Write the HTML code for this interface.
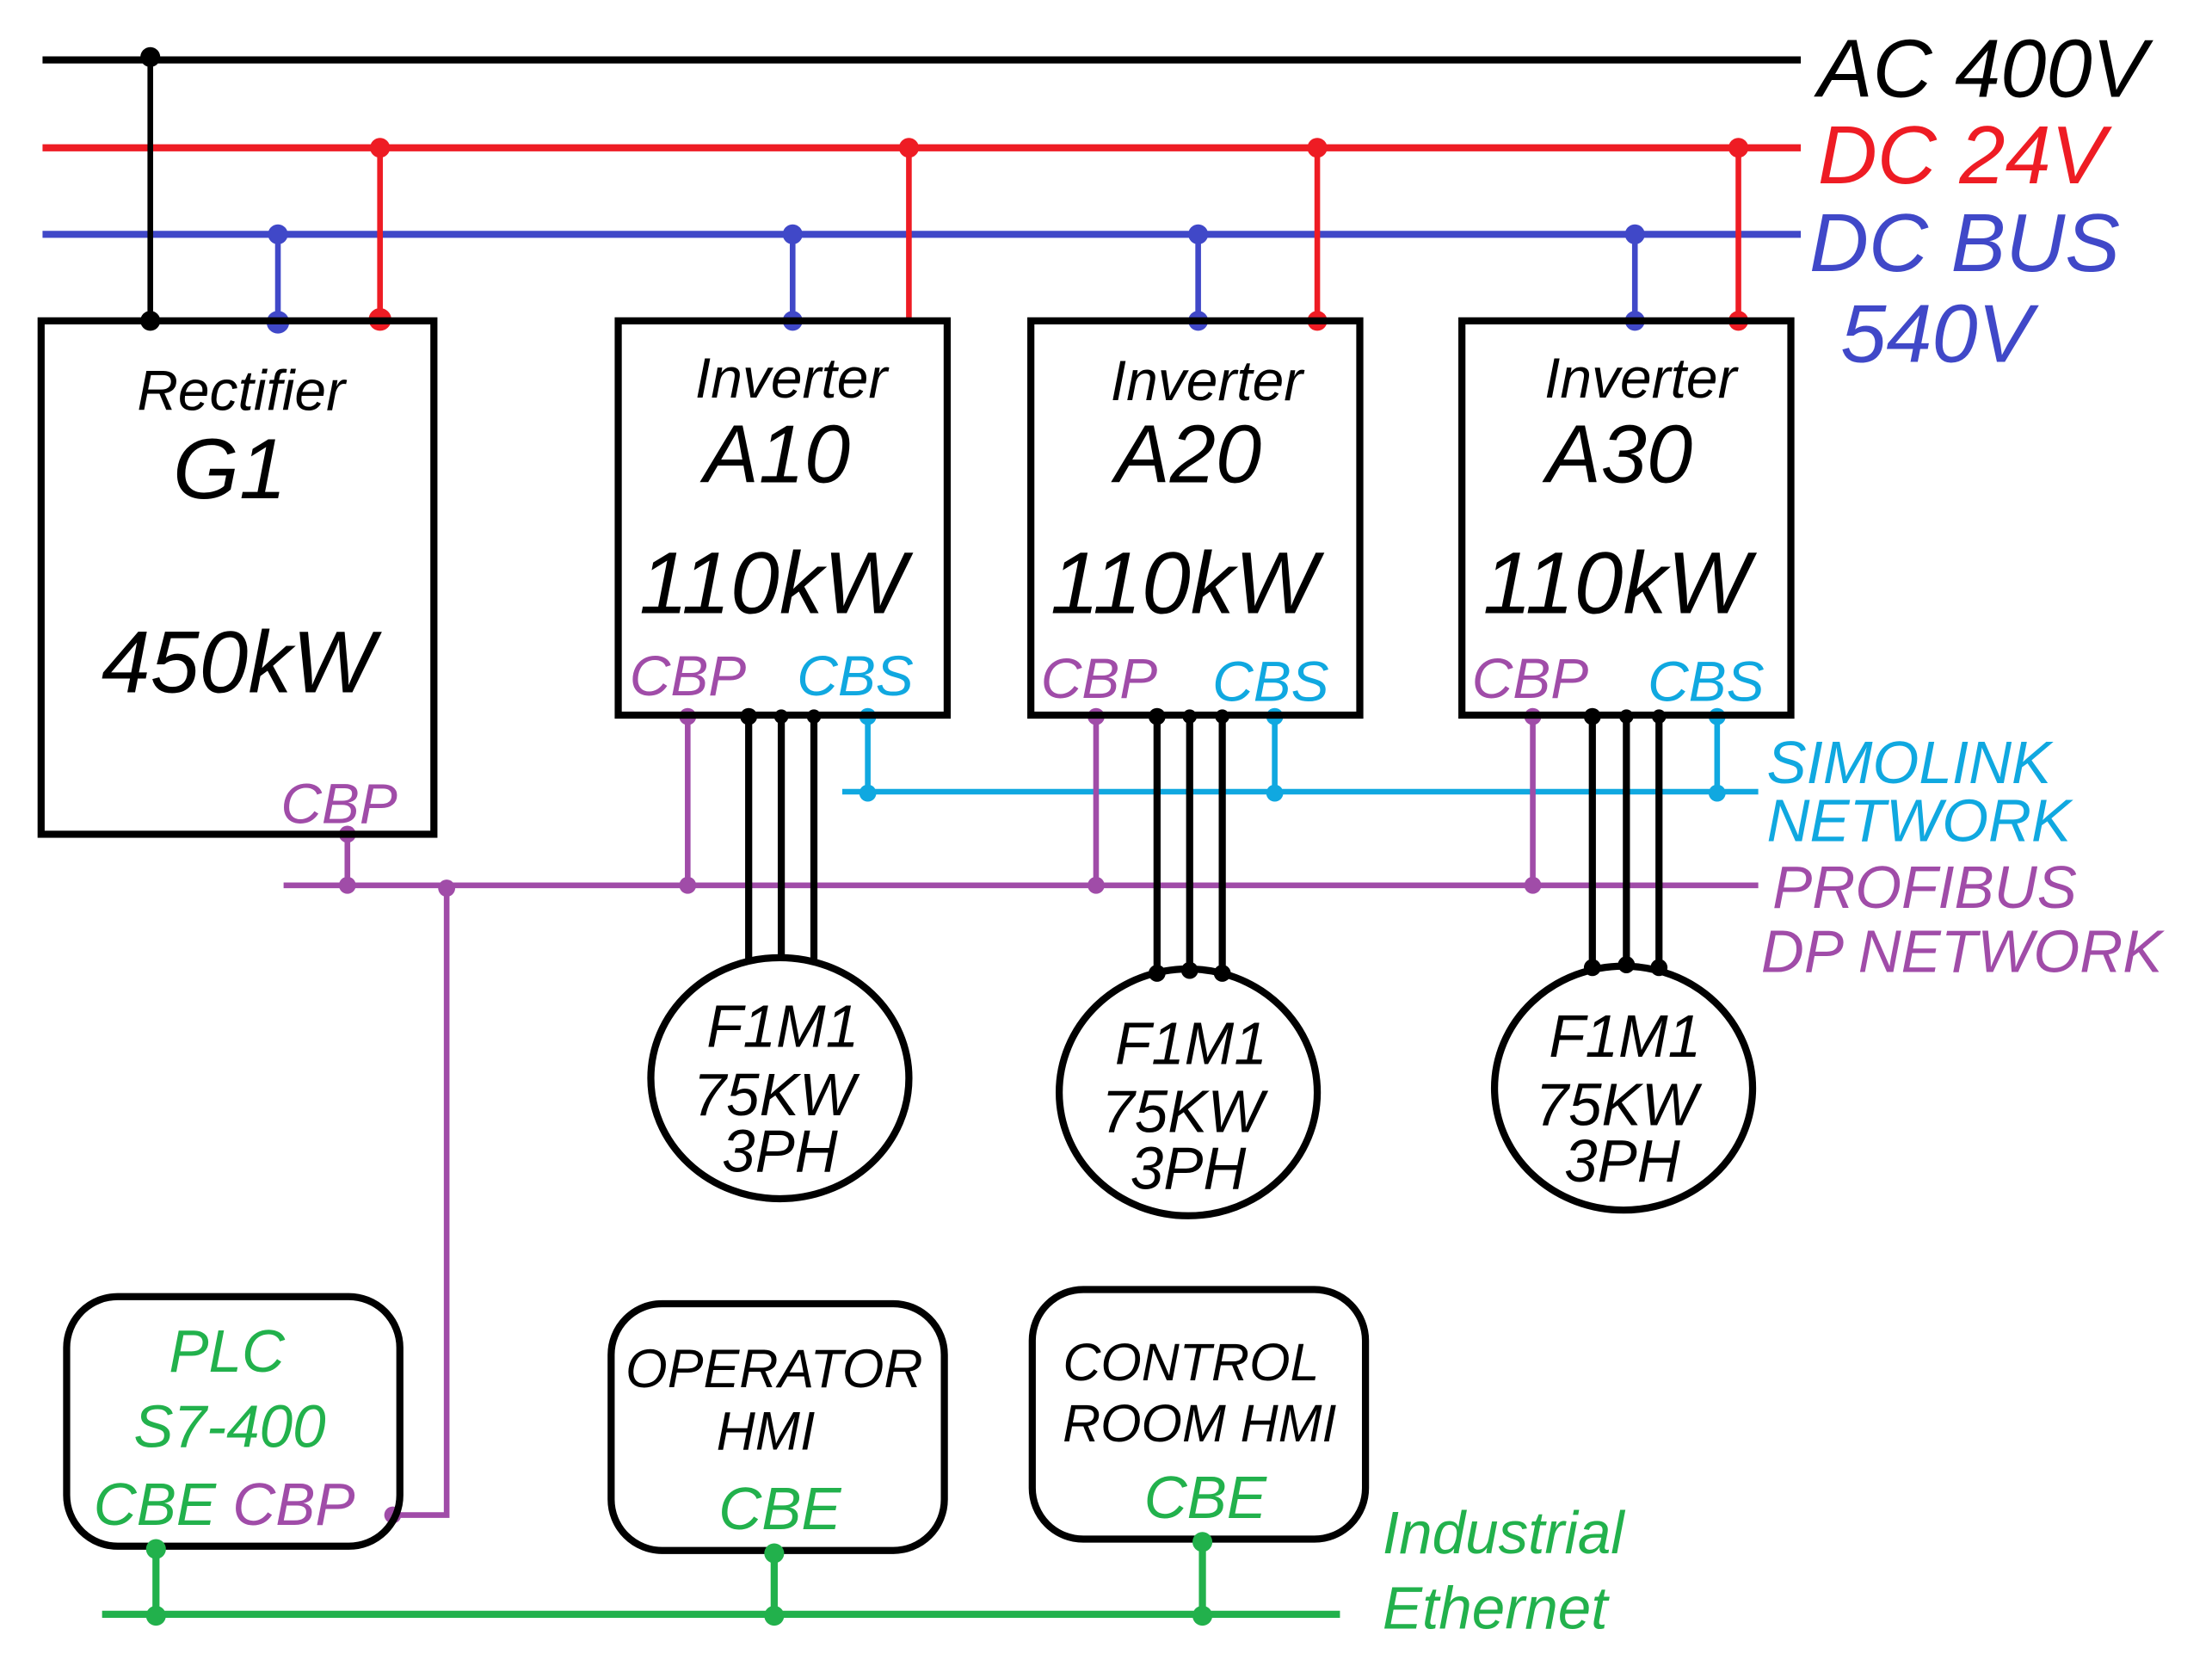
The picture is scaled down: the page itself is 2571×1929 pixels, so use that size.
<!DOCTYPE html>
<html><head><meta charset="utf-8"><style>
html,body{margin:0;padding:0;background:#fff}
svg{display:block}
text{font-family:"Liberation Sans",sans-serif;font-style:italic}
</style></head><body>
<svg width="2571" height="1929" viewBox="0 0 1560 1170" xmlns="http://www.w3.org/2000/svg">
<rect width="1560" height="1170" fill="#fff"/>
<!-- buses -->
<line x1="30" y1="42" x2="1270" y2="42" stroke="#000" stroke-width="5"/>
<line x1="30" y1="104" x2="1270" y2="104" stroke="#ee1c24" stroke-width="5"/>
<line x1="30" y1="165" x2="1270" y2="165" stroke="#4048c8" stroke-width="5"/>
<!-- verticals -->
<g stroke-width="4">
<line x1="106" y1="42" x2="106" y2="225" stroke="#000"/>
<line x1="196" y1="165" x2="196" y2="225" stroke="#4048c8"/>
<line x1="268" y1="104" x2="268" y2="225" stroke="#ee1c24"/>
<line x1="559" y1="165" x2="559" y2="225" stroke="#4048c8"/>
<line x1="641" y1="104" x2="641" y2="225" stroke="#ee1c24"/>
<line x1="845" y1="165" x2="845" y2="225" stroke="#4048c8"/>
<line x1="929" y1="104" x2="929" y2="225" stroke="#ee1c24"/>
<line x1="1153" y1="165" x2="1153" y2="225" stroke="#4048c8"/>
<line x1="1226" y1="104" x2="1226" y2="225" stroke="#ee1c24"/>
</g>
<g>
<circle cx="106" cy="40" r="7" fill="#000"/><circle cx="106" cy="226" r="7" fill="#000"/>
<circle cx="196" cy="165" r="7" fill="#4048c8"/><circle cx="196" cy="227" r="8" fill="#4048c8"/>
<circle cx="268" cy="104" r="7" fill="#ee1c24"/><circle cx="268" cy="225" r="8" fill="#ee1c24"/>
<circle cx="559" cy="165" r="7" fill="#4048c8"/><circle cx="559" cy="226" r="7" fill="#4048c8"/>
<circle cx="641" cy="104" r="7" fill="#ee1c24"/>
<circle cx="845" cy="165" r="7" fill="#4048c8"/><circle cx="845" cy="226" r="7" fill="#4048c8"/>
<circle cx="929" cy="104" r="7" fill="#ee1c24"/><circle cx="929" cy="226" r="7" fill="#ee1c24"/>
<circle cx="1153" cy="165" r="7" fill="#4048c8"/><circle cx="1153" cy="226" r="7" fill="#4048c8"/>
<circle cx="1226" cy="104" r="7" fill="#ee1c24"/><circle cx="1226" cy="226" r="7" fill="#ee1c24"/>
</g>
<text x="1282" y="68" font-size="58" fill="#000">AC 400V</text>
<text x="1282" y="129" font-size="58" fill="#ee1c24">DC 24V</text>
<text x="1276" y="191" font-size="58" fill="#4048c8">DC BUS</text>
<text x="1298" y="255" font-size="58" fill="#4048c8">540V</text>
<!-- SIMOLINK -->
<g stroke="#10a8e0" stroke-width="4">
<line x1="594" y1="558" x2="1240" y2="558"/>
<line x1="612" y1="504" x2="612" y2="558"/>
<line x1="899" y1="504" x2="899" y2="558"/>
<line x1="1211" y1="504" x2="1211" y2="558"/>
</g>
<g fill="#10a8e0">
<circle cx="612" cy="505" r="6"/><circle cx="612" cy="559" r="6"/>
<circle cx="899" cy="505" r="6"/><circle cx="899" cy="559" r="6"/>
<circle cx="1211" cy="505" r="6"/><circle cx="1211" cy="559" r="6"/>
</g>
<!-- PROFIBUS -->
<g stroke="#a04ca8" stroke-width="4" fill="none">
<line x1="200" y1="624" x2="1240" y2="624"/>
<line x1="245" y1="588" x2="245" y2="624"/>
<line x1="485" y1="504" x2="485" y2="624"/>
<line x1="773" y1="504" x2="773" y2="624"/>
<line x1="1081" y1="504" x2="1081" y2="624"/>
<polyline points="315,624 315,1068 275,1068"/>
</g>
<g fill="#a04ca8">
<circle cx="245" cy="588" r="6"/><circle cx="245" cy="624" r="6"/><circle cx="315" cy="626" r="6"/>
<circle cx="485" cy="505" r="6"/><circle cx="485" cy="624" r="6"/>
<circle cx="773" cy="505" r="6"/><circle cx="773" cy="624" r="6"/>
<circle cx="1081" cy="505" r="6"/><circle cx="1081" cy="624" r="6"/>
<circle cx="277" cy="1068" r="6"/>
</g>
<text x="1246" y="552" font-size="42" fill="#10a8e0">SIMOLINK</text>
<text x="1246" y="593" font-size="42" fill="#10a8e0">NETWORK</text>
<text x="1250" y="640" font-size="42" fill="#a04ca8">PROFIBUS</text>
<text x="1242" y="685" font-size="42" fill="#a04ca8">DP NETWORK</text>
<!-- motor wires -->
<g stroke="#000" stroke-width="5">
<line x1="528" y1="504" x2="528" y2="676"/><line x1="551" y1="504" x2="551" y2="674"/><line x1="574" y1="504" x2="574" y2="676"/>
<line x1="816" y1="504" x2="816" y2="686"/><line x1="839" y1="504" x2="839" y2="684"/><line x1="862" y1="504" x2="862" y2="686"/>
<line x1="1123" y1="504" x2="1123" y2="682"/><line x1="1147" y1="504" x2="1147" y2="680"/><line x1="1170" y1="504" x2="1170" y2="682"/>
</g>
<g fill="#000">
<circle cx="528" cy="505" r="6"/><circle cx="551" cy="505" r="5"/><circle cx="574" cy="505" r="5"/>
<circle cx="816" cy="505" r="6"/><circle cx="839" cy="505" r="5"/><circle cx="862" cy="505" r="5"/>
<circle cx="1123" cy="505" r="6"/><circle cx="1147" cy="505" r="5"/><circle cx="1170" cy="505" r="5"/>
<circle cx="816" cy="686" r="6"/><circle cx="839" cy="684" r="6"/><circle cx="862" cy="686" r="6"/>
<circle cx="1123" cy="682" r="6"/><circle cx="1147" cy="680" r="6"/><circle cx="1170" cy="682" r="6"/>
</g>
<!-- boxes -->
<g fill="none" stroke="#000" stroke-width="5">
<rect x="29" y="226" width="277" height="362"/>
<rect x="436" y="226" width="232" height="278"/>
<rect x="727" y="226" width="232" height="278"/>
<rect x="1031" y="226" width="232" height="278"/>
<ellipse cx="550" cy="760" rx="91" ry="85"/>
<ellipse cx="838" cy="770" rx="91" ry="87"/>
<ellipse cx="1145" cy="767" rx="91" ry="86"/>
<rect x="47" y="914" width="235" height="176" rx="36"/>
<rect x="431" y="919" width="235" height="174" rx="36"/>
<rect x="728" y="909" width="235" height="176" rx="36"/>
</g>
<g text-anchor="middle" fill="#000">
<text x="170" y="289" font-size="40">Rectifier</text>
<text x="162" y="351" font-size="60">G1</text>
<text x="168" y="488" font-size="62">450kW</text>
<text x="558" y="280" font-size="40">Inverter</text>
<text x="548" y="340" font-size="58">A10</text>
<text x="545" y="432" font-size="62">110kW</text>
<text x="851" y="282" font-size="40">Inverter</text>
<text x="838" y="340" font-size="58">A20</text>
<text x="835" y="432" font-size="62">110kW</text>
<text x="1157" y="280" font-size="40">Inverter</text>
<text x="1142" y="340" font-size="58">A30</text>
<text x="1140" y="432" font-size="62">110kW</text>
<text x="552" y="738" font-size="42">F1M1</text>
<text x="546" y="786" font-size="42">75KW</text>
<text x="550" y="826" font-size="42">3PH</text>
<text x="840" y="750" font-size="42">F1M1</text>
<text x="834" y="798" font-size="42">75KW</text>
<text x="838" y="838" font-size="42">3PH</text>
<text x="1146" y="745" font-size="42">F1M1</text>
<text x="1140" y="793" font-size="42">75KW</text>
<text x="1144" y="833" font-size="42">3PH</text>
<text x="546" y="978" font-size="38">OPERATOR</text>
<text x="540" y="1022" font-size="38">HMI</text>
<text x="840" y="973" font-size="37">CONTROL</text>
<text x="846" y="1016" font-size="37">ROOM HMI</text>
</g>
<g fill="#a04ca8" font-size="40">
<text x="198" y="580">CBP</text>
<text x="444" y="490">CBP</text>
<text x="734" y="492">CBP</text>
<text x="1038" y="492">CBP</text>
</g>
<g fill="#10a8e0" font-size="40">
<text x="562" y="490">CBS</text>
<text x="855" y="494">CBS</text>
<text x="1162" y="494">CBS</text>
</g>
<g fill="#22b14c" text-anchor="middle">
<text x="160" y="967" font-size="42">PLC</text>
<text x="162" y="1020" font-size="42">S7-400</text>
<text x="550" y="1078" font-size="42">CBE</text>
<text x="850" y="1070" font-size="42">CBE</text>
</g>
<text x="66" y="1075" font-size="42" fill="#22b14c">CBE <tspan fill="#a04ca8">CBP</tspan></text>
<!-- Ethernet -->
<g stroke="#22b14c" stroke-width="5">
<line x1="72" y1="1138" x2="945" y2="1138"/>
<line x1="110" y1="1092" x2="110" y2="1138"/>
<line x1="546" y1="1095" x2="546" y2="1138"/>
<line x1="848" y1="1087" x2="848" y2="1138"/>
</g>
<g fill="#22b14c">
<circle cx="110" cy="1092" r="7"/><circle cx="110" cy="1139" r="7"/>
<circle cx="546" cy="1095" r="7"/><circle cx="546" cy="1139" r="7"/>
<circle cx="848" cy="1087" r="7"/><circle cx="848" cy="1139" r="7"/>
</g>
<text x="975" y="1095" font-size="42" fill="#22b14c">Industrial</text>
<text x="975" y="1148" font-size="42" fill="#22b14c">Ethernet</text>
</svg>
</body></html>
